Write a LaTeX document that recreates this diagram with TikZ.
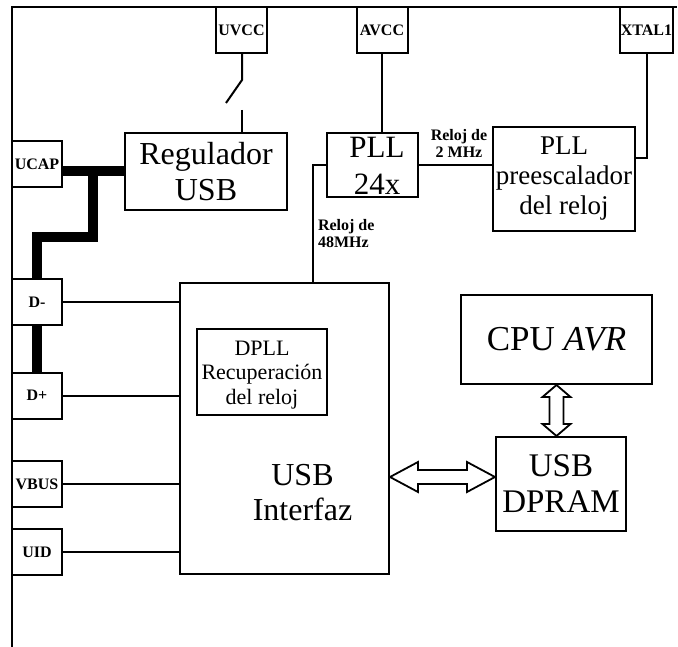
\documentclass[tikz,border=0pt]{standalone}
\usepackage{fontspec}
\setmainfont{Liberation Serif}
\usetikzlibrary{positioning, calc}

\begin{document}
\begin{tikzpicture}
	[x=1pt, y=-1pt, line width=2pt, line join=miter,
	pin/.style={rectangle, draw, minimum width=50, minimum height=46, inner sep=0pt, font=\bfseries\fontsize{16}{17}\selectfont},
	block/.style={rectangle, draw, align=center, inner sep=0pt, font=\fontsize{32}{36}\selectfont},
	txt/.style={align=center, inner sep=0pt},
	lbl/.style={align=center, inner sep=0pt, font=\bfseries\fontsize{16}{17}\selectfont},
	bus/.style={line width=10pt},
	hollow/.style={line width=1.8pt, fill=white}
	]
	\useasboundingbox (0,0) rectangle (678,647);
	
	% Frame
	\draw (12,647) -- (12,7) -- (677,7);
	
	% Pins
	\node[pin, minimum width=51] (uvcc) at (241.5,30) {UVCC};
	\node[pin, minimum width=51] (avcc) at (382,30) {AVCC};
	\node[pin, minimum width=53] (xtal) at (646.5,30) {XTAL1};
	\node[pin] (ucap) at (37,164.5) {UCAP};
	\node[pin] (dminus) at (37,302.5) {D-};
	\node[pin] (dplus) at (37,395.5) {D+};
	\node[pin] (vbus) at (37,484) {VBUS};
	\node[pin] (uid) at (37,552) {UID};
	
	% Blocks
	\node[block, minimum width=162, minimum height=77] (reg) at (206,171.5) {Regulador\\USB};
	\node[block, minimum width=91, minimum height=64] (pll) at (372.5,165) {};
	\node[txt, font=\fontsize{31}{37}\selectfont] (plltxt) at (377,166) {PLL\\24x};
	\node[block, minimum width=142, minimum height=104, font=\fontsize{27}{30}\selectfont] (pres) at (564,179) {PLL\\preescalador\\del reloj};
	\node[block, minimum width=209, minimum height=291] (iface) at (284.5,428.5) {};
	\node[txt, font=\fontsize{32}{35}\selectfont] (ifacetxt) at (302.5,493) {USB\\Interfaz};
	\node[block, minimum width=130, minimum height=86] (dpll) at (262,372) {};
	\node[txt, font=\fontsize{22}{24.5}\selectfont] (dplltxt) at (262,375) {DPLL\\Recuperación\\del reloj};
	\node[block, minimum width=191, minimum height=89, font=\fontsize{35}{36}\selectfont] (cpu) at (556.5,339.5) {CPU \textit{AVR}};
	\node[block, minimum width=130, minimum height=94, font=\fontsize{33}{36}\selectfont] (dpram) at (561,484) {USB\\DPRAM};
	
	% Labels
	\node[lbl] (clk2) at (459,143) {Reloj de\\2 MHz};
	\node[lbl, align=left, anchor=west] (clk48) at (317,234) {Reloj de\\48MHz};
	
	% Switch on UVCC
	\coordinate (swtop) at (242,80);
	\coordinate (swbot) at (242,110);
	\draw (uvcc.south -| swtop) -- (swtop) -- ++(-16,23);
	\draw (swbot) -- (swbot |- reg.north);
	
	% Clock lines
	\draw (avcc.south) -- (avcc.south |- pll.north);
	\draw (pll.east) -- (pll.east -| pres.west);
	\draw (xtal.south) |- ($(pres.north east)!0.3!(pres.south east)$);
	\coordinate (clkturn) at (313,165);
	\draw (pll.west) -- (clkturn) -- (clkturn |- iface.north);
	
	% Pin lines
	\draw (dminus.east) -- (dminus.east -| iface.west);
	\draw (dplus.east) -- (dplus.east -| iface.west);
	\draw (vbus.east) -- (vbus.east -| iface.west);
	\draw (uid.east) -- (uid.east -| iface.west);
	
	% UCAP bus
	\coordinate (bj) at (93,237);
	\draw[bus] (ucap.east |- reg.west) -- (reg.west);
	\draw[bus] (bj |- reg.west) -- (bj) -| (dminus.north);
	\draw[bus] (dminus.south) -- (dplus.north);
	
	% Data arrows
	\coordinate (hy) at (0,477);
	\coordinate (ha) at (iface.east |- hy);
	\coordinate (hb) at (dpram.west |- hy);
	\draw[hollow] (ha) -- ++(28,-15) -- ++(0,8) -- ($(hb)+(-28,-7)$) -- ++(0,-8) -- (hb) -- ++(-28,15) -- ++(0,-8) -- ($(ha)+(28,7)$) -- ++(0,8) -- cycle;
	\coordinate (va) at (cpu.south);
	\coordinate (vb) at (cpu.south |- dpram.north);
	\draw[hollow] (va) -- ++(14,12) -- ++(-7,0) -- ($(vb)+(7,-12)$) -- ++(7,0) -- (vb) -- ++(-14,-12) -- ++(7,0) -- ($(va)+(-7,12)$) -- ++(-7,0) -- cycle;
\end{tikzpicture}
\end{document}
